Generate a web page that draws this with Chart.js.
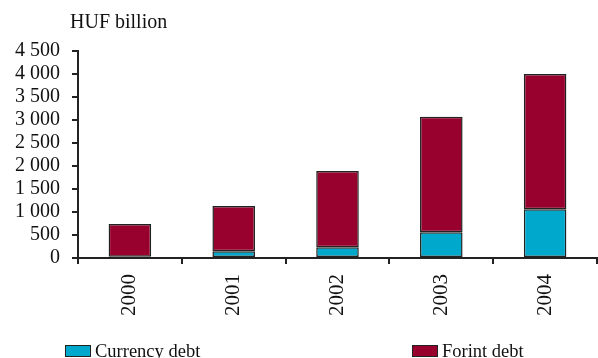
<!DOCTYPE html>
<html>
<head>
<meta charset="utf-8">
<script src="https://cdn.jsdelivr.net/npm/chart.js@4.4.1/dist/chart.umd.min.js"></script>
<style>
  html, body { margin: 0; padding: 0; background: #fff; }
  #wrap { position: relative; width: 598px; height: 358px; font-family: "Liberation Serif", "Times New Roman", serif; color: #111; }
  #chart { position: absolute; left: 0; top: 0; }
  .unit { position: absolute; left: 70px; top: 10px; font-size: 20px; }
  .legend { position: absolute; top: 341px; font-size: 18.5px; line-height: 20px; white-space: nowrap; }
  .legend .box { display: inline-block; width: 24px; height: 10px; border: 1.5px solid #222; vertical-align: 0px; margin-right: 4px; }
</style>
</head>
<body>
<div id="wrap">
  <canvas id="chart" width="598" height="358"></canvas>
  <div class="unit">HUF billion</div>
  <div class="legend" style="left:65px"><span class="box" style="background:#00a8cc"></span>Currency debt</div>
  <div class="legend" style="left:412px"><span class="box" style="background:#98002e"></span>Forint debt</div>
</div>
<script>
const years = ["2000", "2001", "2002", "2003", "2004"];
const currencyDebt = [25, 145, 232, 558, 1058];
const forintDebt = [715, 985, 1660, 2514, 2942];
const yTicks = [0, 500, 1000, 1500, 2000, 2500, 3000, 3500, 4000, 4500];

const serif = "'Liberation Serif', 'Times New Roman', serif";

// thousands grouped with a space, e.g. "4 500"
const fmt = (v) => String(v).replace(/\B(?=(\d{3})+(?!\d))/g, " ");

const ctx = document.getElementById("chart").getContext("2d");
new Chart(ctx, {
  type: "bar",
  data: {
    labels: years,
    datasets: [
      {
        label: "Currency debt",
        data: currencyDebt,
        backgroundColor: "#00a8cc",
        borderColor: "#222",
        borderWidth: 1.5,
        borderSkipped: false,
      },
      {
        label: "Forint debt",
        data: forintDebt,
        backgroundColor: "#98002e",
        borderColor: "#222",
        borderWidth: 1.5,
        borderSkipped: false,
      },
    ],
  },
  options: {
    responsive: false,
    animation: false,
    layout: { padding: { left: 0, right: 1, top: 51, bottom: 30 } },
    datasets: { bar: { categoryPercentage: 1, barPercentage: 0.41 } },
    plugins: {
      legend: { display: false },
      tooltip: { enabled: false },
    },
    scales: {
      x: {
        stacked: true,
        offset: true,
        grid: { offset: true, drawOnChartArea: false, drawTicks: true, tickLength: 6, color: "#222", lineWidth: 2 },
        border: { display: true, color: "#222", width: 2 },
        ticks: { color: "#111", font: { family: serif, size: 21 }, minRotation: 90, maxRotation: 90, autoSkip: false, padding: 10 },
        afterFit: (scale) => { scale.height = 70; },
      },
      y: {
        stacked: true,
        min: 0,
        max: 4500,
        afterBuildTicks: (scale) => { scale.ticks = yTicks.map((v) => ({ value: v })); },
        grid: { drawOnChartArea: false, drawTicks: true, tickLength: 6, color: "#222", lineWidth: 2 },
        border: { display: true, color: "#222", width: 2 },
        ticks: { color: "#111", font: { family: serif, size: 20 }, padding: 12, autoSkip: false, callback: (v) => fmt(v) },
        afterFit: (scale) => { scale.width = 78; },
      },
    },
  },
});
</script>
</body>
</html>
